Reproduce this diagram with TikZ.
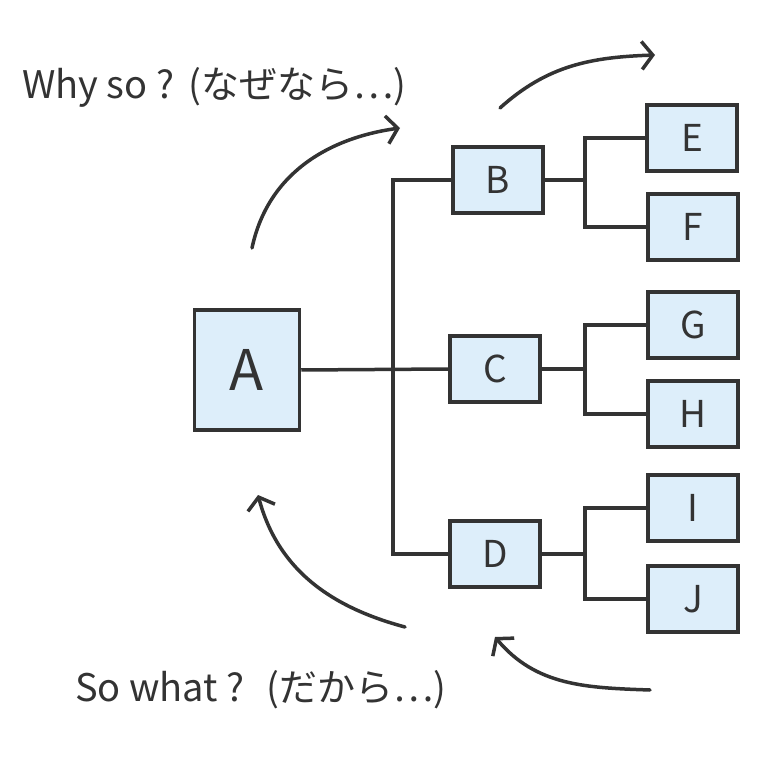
\documentclass[tikz,border=0pt]{standalone}
\usepackage{fontspec}
\setmainfont{Noto Sans CJK JP}
\usetikzlibrary{arrows.meta,positioning,calc}
\definecolor{ink}{HTML}{333333}
\definecolor{boxblue}{HTML}{DDEEFA}
\tikzset{
  leaf/.style={draw=ink, fill=boxblue, line width=3.5pt, minimum width=90pt,
    minimum height=66pt, inner sep=0pt, font=\fontsize{37}{40}\selectfont, text=ink},
  rootbox/.style={leaf, minimum width=105pt, minimum height=120pt,
    font=\fontsize{56}{60}\selectfont},
  link/.style={draw=ink, line width=3.5pt},
  turn/.style={draw=ink, line width=3.5pt, line cap=round,
    -{Straight Barb[length=11pt, width=28pt, line width=3.5pt]}},
  note/.style={font=\fontsize{38}{42}\selectfont, text=ink, anchor=west, inner sep=0pt},
}
\begin{document}
\begin{tikzpicture}[x=1pt,y=1pt]
  \useasboundingbox (0,0) rectangle (768,756);
  % boxes
  \node[rootbox] (A) at (247,386) {A};
  \node[leaf] (B) at (498,576) {B};
  \node[leaf] (C) at (495,387) {C};
  \node[leaf] (D) at (495,202) {D};
  \node[leaf] (E) at (692,618) {E};
  \node[leaf] (F) at (693,529) {F};
  \node[leaf] (G) at (693,431) {G};
  \node[leaf] (H) at (693,342) {H};
  \node[leaf] (I) at (693,248) {I};
  \node[leaf] (J) at (693,157) {J};
  % trunk from A
  \coordinate (trunk) at (393,202);
  \draw[link] (B.west) -| (trunk) |- (D.west);
  \draw[link] (A.east) -- (C.west);
  % forks to the leaves
  \foreach \p/\u/\l in {B/E/F, C/G/H, D/I/J} {
    \coordinate (fork\p) at (585,0 |- \p.east);
    \draw[link] (\p.east) -- (fork\p);
    \draw[link] (\u.west) -| (fork\p) |- (\l.west);
  }
  % turning arrows
  \coordinate (why1s) at (252,508);  \coordinate (why1e) at (400,628);
  \coordinate (why2s) at (500,648);  \coordinate (why2e) at (655,701);
  \coordinate (so1s) at (405,129);   \coordinate (so1e) at (258,261);
  \coordinate (so2s) at (650,66);    \coordinate (so2e) at (495,119);
  \draw[turn] (why1s) to[out=78, in=188] (why1e);
  \draw[turn] (why2s) to[out=42, in=182] (why2e);
  \draw[turn] (so1s) to[out=165, in=-75] (so1e);
  \draw[turn] (so2s) to[out=178, in=-50] (so2e);
  % labels
  \node[note] (why) at (22,669) {Why so ?\hspace{14pt}(なぜなら…)};
  \node[note] (sowhat) at (75,66) {So what ?\hspace{22pt}(だから…)};
\end{tikzpicture}
\end{document}
